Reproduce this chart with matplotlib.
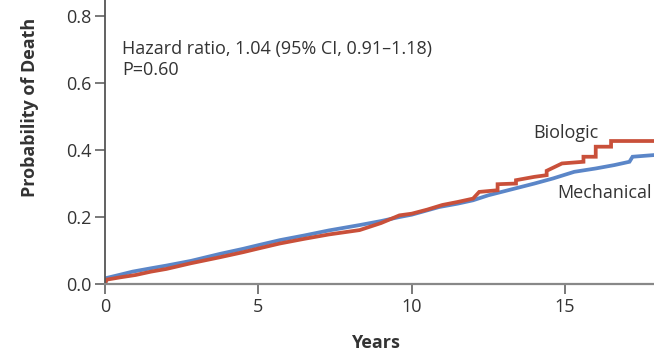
import matplotlib
matplotlib.use("Agg")
import matplotlib.pyplot as plt

# Biologic valve (red) - cumulative probability of death
bio_years = [0, 0.05, 0.5, 1, 1.5, 2, 2.8, 3.75, 4.5, 5, 5.7, 6.5, 7.3, 8.3, 9, 9.6,
             10, 10.5, 11, 11.5, 12, 12.2, 12.8, 12.8, 13.4, 13.4, 14.0, 14.4, 14.4,
             14.9, 15.6, 15.6, 16.0, 16.0, 16.5, 16.5, 17.9]
bio_prob = [0, 0.013, 0.02, 0.027, 0.037, 0.045, 0.062, 0.080, 0.095, 0.106, 0.121, 0.135,
            0.148, 0.161, 0.182, 0.205, 0.210, 0.222, 0.236, 0.245, 0.255, 0.275, 0.280,
            0.298, 0.300, 0.310, 0.320, 0.325, 0.338, 0.360, 0.365, 0.380, 0.380, 0.410,
            0.410, 0.427, 0.427]

# Mechanical valve (blue)
mech_years = [0, 0.05, 0.5, 0.9, 1.5, 2, 2.8, 3.75, 4.5, 5, 5.7, 6.5, 7.3, 8.3, 9, 9.6,
              10, 10.9, 11.5, 12, 12.5, 13.4, 14, 14.6, 15.3, 16, 16.6, 17.1, 17.2, 17.9]
mech_prob = [0, 0.018, 0.028, 0.037, 0.047, 0.055, 0.069, 0.090, 0.105, 0.116, 0.131, 0.145,
             0.160, 0.176, 0.188, 0.200, 0.207, 0.230, 0.240, 0.250, 0.265, 0.286, 0.300,
             0.315, 0.335, 0.345, 0.355, 0.365, 0.380, 0.385]

x_ticks = [0, 5, 10, 15]
y_ticks = [0.0, 0.2, 0.4, 0.6, 0.8]

plt.rcParams['font.family'] = ['Open Sans', 'DejaVu Sans']
txt = '#333333'

fig = plt.figure(figsize=(6.54, 3.54), dpi=100)
ax = fig.add_axes([0.1606, 0.1977, 0.8394, 0.8023])

ax.plot(mech_years, mech_prob, color='#5b86c8', lw=2.7, solid_joinstyle='miter')
ax.plot(bio_years, bio_prob, color='#c9503a', lw=2.7, solid_joinstyle='miter')

ax.set_xlim(0, 17.9)
ax.set_ylim(0, 0.848)
ax.set_xticks(x_ticks)
ax.set_yticks(y_ticks)
ax.set_yticklabels(['%.1f' % v for v in y_ticks])

for s in ['top', 'right']:
    ax.spines[s].set_visible(False)
ax.spines['left'].set_color('#555555')
ax.spines['bottom'].set_color('#888888')
ax.spines['left'].set_linewidth(1.3)
ax.spines['bottom'].set_linewidth(1.6)
ax.tick_params(axis='both', length=7, width=1.1, colors='#555555', labelcolor=txt,
               labelsize=13, pad=3)

ax.set_xlabel('Years', fontsize=13, fontweight='bold', color=txt, va='center')
ax.xaxis.set_label_coords(0.492, -0.208)
ax.set_ylabel('Probability of Death', fontsize=13, fontweight='bold', color=txt, va='center')
ax.yaxis.set_label_coords(-0.137, 0.623)

ax.text(0.55, 0.73, 'Hazard ratio, 1.04 (95% CI, 0.91\u20131.18)\nP=0.60',
        fontsize=13, color=txt, va='top', ha='left', linespacing=1.25)
ax.text(13.95, 0.45, 'Biologic', fontsize=13, color=txt, va='center')
ax.text(14.74, 0.272, 'Mechanical', fontsize=13, color=txt, va='center')

fig.savefig('out.png', dpi=100)
